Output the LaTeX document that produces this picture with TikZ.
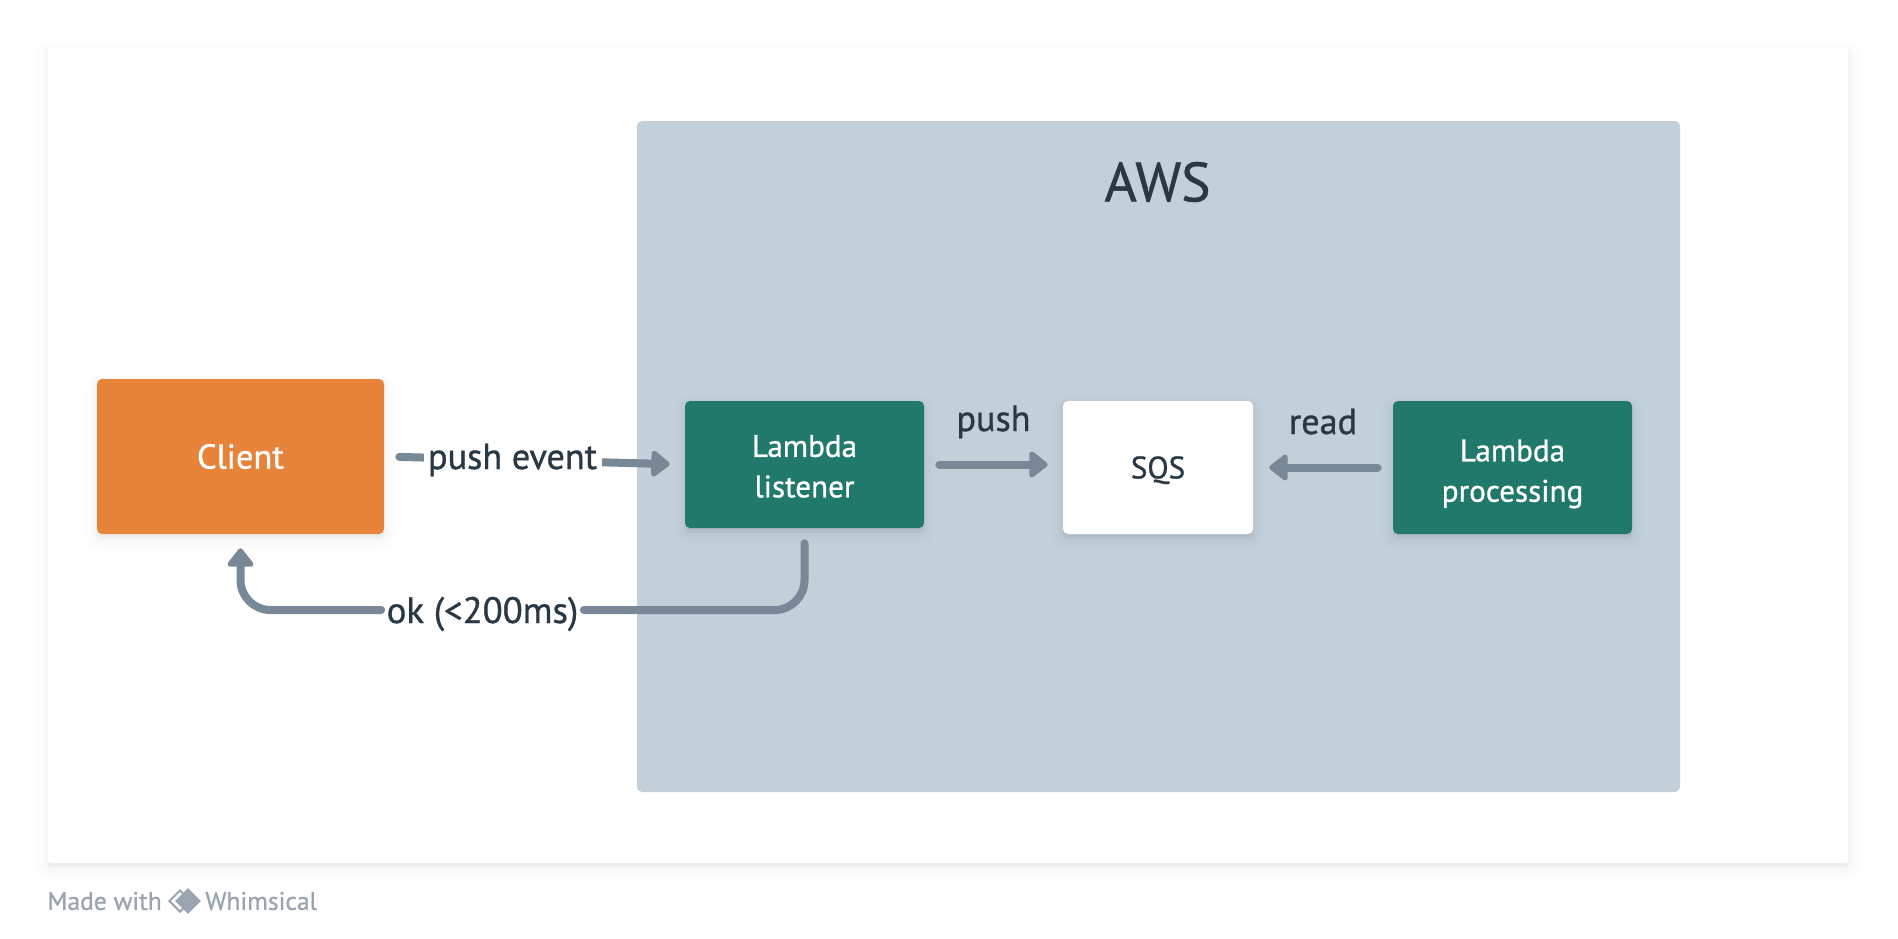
\documentclass[tikz,border=0pt]{standalone}
\usepackage{fontspec}
\setmainfont[FakeBold=0.9]{PT Sans}
\usetikzlibrary{arrows.meta,shadows,shapes.geometric}
\definecolor{awsblue}{HTML}{C3CFD9}
\definecolor{linegray}{HTML}{788896}
\definecolor{clientorange}{HTML}{E8833A}
\definecolor{lambdagreen}{HTML}{20796A}
\definecolor{inkdark}{HTML}{293845}
\definecolor{footgray}{HTML}{9AA5B1}
\tikzstyle{softshadow}=[general shadow={draw=black,fill=black,line width=0.44cm,opacity=0.006,shadow yshift=-0.12cm},
                general shadow={draw=black,fill=black,line width=0.3cm,opacity=0.008,shadow yshift=-0.1cm},
                general shadow={draw=black,fill=black,line width=0.18cm,opacity=0.01,shadow yshift=-0.08cm},
                general shadow={draw=black,fill=black,line width=0.06cm,opacity=0.012,shadow yshift=-0.04cm}]
\tikzstyle{box}=[shape=rectangle,
                rounded corners=0.1cm,
                align=center,
                softshadow,
                font=\fontsize{17.7}{23}\selectfont]
\tikzstyle{lambda}=[box,fill=lambdagreen,text=white]
\tikzstyle{lbl}=[text=inkdark,inner sep=0pt,text depth=0.14cm,font=\fontsize{20.6}{25}\selectfont]
\tikzstyle{gaplbl}=[lbl,fill=white,text height=0.7cm,text depth=0.18cm,minimum height=0.9cm]
\tikzstyle{link}=[line width=0.16cm,draw=linegray,line cap=round,line join=round]
\tikzstyle{foot}=[text=footgray,font=\fontsize{14.5}{18}\selectfont,inner sep=0pt]

\begin{document}
\begin{tikzpicture}[>={Triangle[length=0.4cm,width=0.6cm,round]}]
\useasboundingbox[fill=white] (0,0) rectangle (37.96,-18.76);

% card and cloud area
\node[shape=rectangle,fill=white,rounded corners=0.04cm,softshadow,minimum width=36cm,minimum height=16.3cm] (card) at (18.96,-9.11) {};
\node[shape=rectangle,fill=awsblue,rounded corners=0.1cm,minimum width=20.86cm,minimum height=13.42cm] (aws) at (23.17,-9.13) {};
\node[text=inkdark,font=\fontsize{31.5}{38}\selectfont] (awslbl) at (23.15,-3.64) {AWS};

% services
\node[box,fill=clientorange,text=white,font=\fontsize{19.6}{24}\selectfont,minimum width=5.74cm,minimum height=3.1cm] (client) at (4.81,-9.13) {Client};
\node[lambda,text height=1.32cm,minimum width=4.78cm,minimum height=2.54cm] (listener) at (16.09,-9.29) {Lambda\\listener};
\node[box,text height=0.55cm,fill=white,text=inkdark,minimum width=3.8cm,minimum height=2.66cm] (sqs) at (23.16,-9.35) {SQS};
\node[lambda,text height=1.5cm,minimum width=4.78cm,minimum height=2.66cm] (processing) at (30.25,-9.35) {Lambda\\processing};

% return label, the lines stop at it
\node[gaplbl,font=\fontsize{20.9}{25}\selectfont,minimum width=4.04cm] (ok) at (9.65,-12.2) {ok (<200ms)};

% connectors
\draw[link,->,shorten <=0.3cm,shorten >=0.3cm] (client.east) -- (listener.west);
\node[gaplbl,minimum width=3.56cm] (pushevent) at (10.25,-9.12) {push event};
\draw[link,->,shorten <=0.3cm,shorten >=0.3cm] (listener.east) -- (listener.east -| sqs.west) node[lbl,midway,above=0.45cm] (push) {push};
\draw[link,->,shorten <=0.3cm,shorten >=0.32cm] (processing.west) -- (sqs.east) node[lbl,midway,above=0.45cm] (read) {read};
\draw[link,rounded corners=0.6cm,shorten <=0.3cm] (listener.south) |- (ok.east);
\draw[link,->,rounded corners=0.6cm,shorten >=0.28cm] (ok.west) -| (client.south);

% footer
\node[foot,anchor=west] (made) at (0.94,-18.02) {Made with};
\node[shape=diamond,draw=footgray,line width=0.04cm,inner sep=0pt,minimum size=0.44cm] (logoa) at (3.6,-18.02) {};
\node[shape=diamond,fill=footgray,inner sep=0pt,minimum size=0.52cm] (logob) at (3.76,-18.02) {};
\node[foot,anchor=west] (whim) at (4.1,-18.02) {Whimsical};

\end{tikzpicture}
\end{document}
